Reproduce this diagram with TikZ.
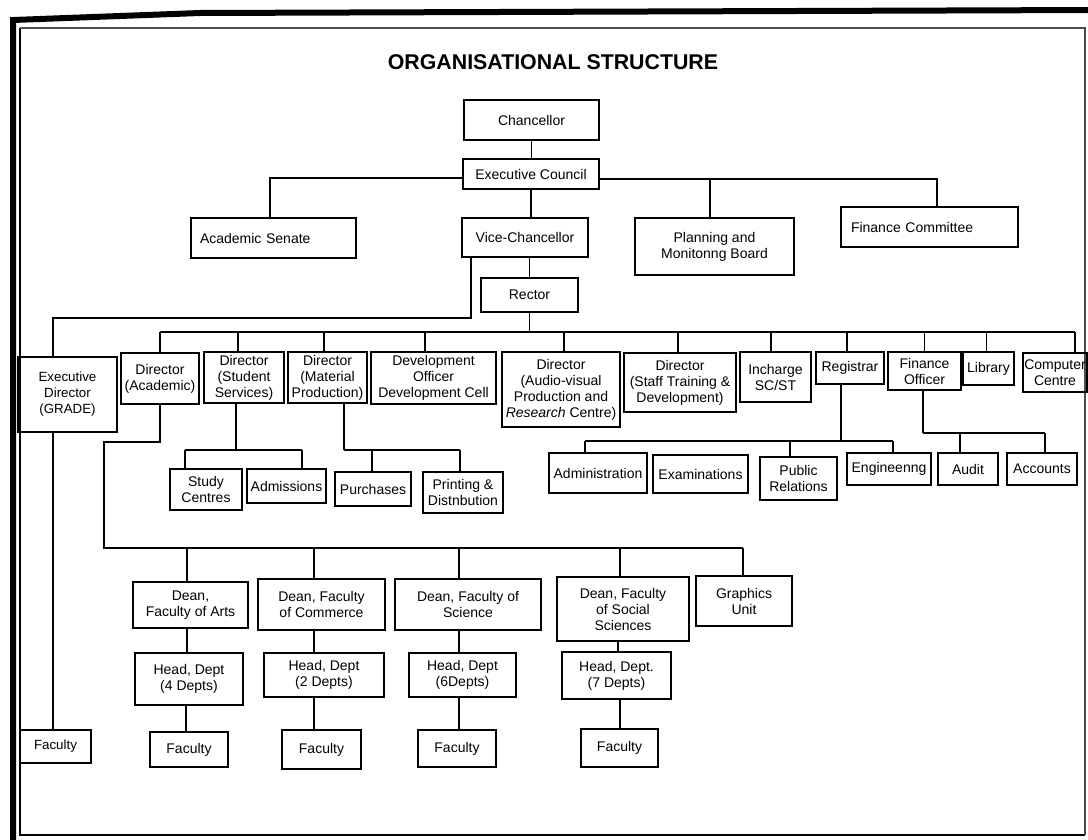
\documentclass[tikz,border=0pt]{standalone}
\usepackage{fontspec}
\setmainfont{Liberation Sans}
\usetikzlibrary{calc}
\tikzset{
  box/.style={draw, line width=1.2pt, inner sep=0pt, align=center, font=\fontsize{10.5}{12}\selectfont},
  conn/.style={line width=1.2pt},
}
% \obox[opts]{name}{x1}{y1}{x2}{y2}{text}
\newcommand\obox[7][]{\node[box,minimum width={(#5-#3)*0.75pt},minimum height={(#6-#4)*0.75pt},#1] (#2) at ({(#3+#5)/2},{(#4+#6)/2}) {#7};}
% drop from bus level (#1) to top of node #2 shifted by #3 px
\newcommand\dropto[3]{\draw[conn] let \p1=($(#2.north)+(#3,0)$), \p2=(#1) in (\x1,\y2) -- (\p1);}
% from bottom of node #2 (shifted #3) down to bus level #1
\newcommand\riseto[3]{\draw[conn] let \p1=($(#2.south)+(#3,0)$), \p2=(#1) in (\p1) -- (\x1,\y2);}
% vertical link from bottom of #1 (shift #3) to top of #2
\newcommand\vlink[3]{\draw[conn] let \p1=($(#1.south)+(#3,0)$), \p2=(#2.north) in (\p1) -- (\x1,\y2);}
\begin{document}
\begin{tikzpicture}[x=0.75pt,y=-0.75pt]
\useasboundingbox (0,0) rectangle (1088,839);
\fill[white] (0,0) rectangle (1088,839);
% frame
\draw[line width=4.5pt] (13,845) -- (13,20) -- (200,13) -- (1095,10);
\draw[line width=1.2pt] (20,28) -- (20,835) -- (1085,835);
\draw[line width=0.8pt, black!70] (20,28) -- (1085,28) -- (1085,835);
% title
\node[font=\fontsize{16}{19}\selectfont\bfseries] (title) at (553,62) {ORGANISATIONAL STRUCTURE};
% top boxes
\obox{chan}{464}{100}{599}{140}{Chancellor}
\obox{ec}{463}{159}{599}{189}{Executive Council}
\obox[align=left,text width=110.25pt]{sen}{191}{218}{356}{258}{Academic Senate}
\obox{vc}{462}{218}{588}{257}{Vice-Chancellor}
\obox{plan}{635}{218}{794}{275}{Planning and\\Monitonng Board}
\obox[align=left,text width=117.75pt]{fc}{841}{207}{1018}{247}{Finance Committee}
\obox{rec}{481}{278}{578}{312}{Rector}
% directors row
\obox[font=\fontsize{10}{12}\selectfont]{ed}{18}{357}{117}{432}{Executive\\Director\\(GRADE)}
\obox{da}{121}{353}{199}{404}{Director\\(Academic)}
\obox{dss}{204}{352}{284}{403}{Director\\(Student\\Services)}
\obox{dmp}{288}{352}{367}{403}{Director\\(Material\\Production)}
\obox{dev}{371}{352}{496}{404}{Development\\Officer\\Development Cell}
\obox{av}{502}{352}{620}{427}{Director\\(Audio-visual\\Production and\\\textit{Research} Centre)}
\obox{st}{624}{353}{736}{412}{Director\\(Staff Training \&\\Development)}
\obox{inc}{740}{352}{811}{402}{Incharge\\SC/ST}
\obox{reg}{816}{352}{884}{384}{Registrar}
\obox{fo}{888}{352}{961}{390}{Finance\\Officer}
\obox{lib}{963}{352}{1014}{385}{Library}
\obox{cc}{1023}{353}{1087}{392}{Computer\\Centre}
% second level
\obox{scen}{170}{469}{242}{510}{Study\\Centres}
\obox{adms}{247}{469}{326}{503}{Admissions}
\obox{pur}{335}{472}{411}{506}{Purchases}
\obox{prt}{423}{472}{503}{513}{Printing \&\\Distnbution}
\obox{adm}{549}{453}{647}{493}{Administration}
\obox{exam}{653}{455}{748}{493}{Examinations}
\obox{pr}{760}{457}{837}{500}{Public\\Relations}
\obox{eng}{847}{453}{931}{485}{Engineenng}
\obox{aud}{938}{453}{998}{485}{Audit}
\obox{acc}{1007}{453}{1077}{485}{Accounts}
% deans
\obox{dar}{133}{582}{248}{628}{Dean,\\Faculty of Arts}
\obox{dco}{258}{579}{385}{630}{Dean, Faculty\\of Commerce}
\obox{dsc}{395}{579}{541}{630}{Dean, Faculty of\\Science}
\obox{dso}{557}{577}{689}{641}{Dean, Faculty\\of Social\\Sciences}
\obox{gu}{696}{576}{792}{626}{Graphics\\Unit}
% heads
\obox{har}{135}{653}{243}{705}{Head, Dept\\(4 Depts)}
\obox{hco}{264}{653}{384}{697}{Head, Dept\\(2 Depts)}
\obox{hsc}{409}{653}{516}{697}{Head, Dept\\(6Depts)}
\obox{hso}{562}{652}{671}{699}{Head, Dept.\\(7 Depts)}
% faculties
\obox[font=\fontsize{10}{12}\selectfont]{fed}{20}{730}{91}{763}{Faculty}
\obox{far}{150}{732}{228}{767}{Faculty}
\obox{fco}{282}{730}{361}{769}{Faculty}
\obox{fsc}{418}{730}{496}{767}{Faculty}
\obox{fso}{581}{729}{658}{767}{Faculty}
% ---- connectors ----
\coordinate (ecL) at (270,178);
\coordinate (ecR) at (937,179);
\draw[conn] (chan.south) -- (chan.south |- ec.north);
\draw[conn] (ec.west |- ecL) -- (ecL) -- (ecL |- sen.north);
\draw[conn] (ec.east |- ecR) -- (ecR) -- (ecR |- fc.north);
\dropto{ecR}{plan}{-4.5}
\draw[conn] (ec.south) -- (ec.south |- vc.north);
\draw[conn] (rec.north |- vc.south) -- (rec.north);
% VC to Executive Director
\coordinate (edA) at (471,318);
\coordinate (edB) at (53,318);
\draw[conn] (edA |- vc.south) -- (edA) -- (edB) -- (edB |- ed.north);
\draw[conn] (edB |- ed.south) -- (edB |- fed.north);
% directors bus
\coordinate (dirL) at (160,332);
\coordinate (dirR) at (1075,332);
\draw[conn] (dirL) -- (dirR);
\riseto{dirL}{rec}{0}
\dropto{dirL}{da}{0}
\dropto{dirL}{dss}{-6}
\dropto{dirL}{dmp}{-3.5}
\dropto{dirL}{dev}{-8.5}
\dropto{dirL}{av}{3}
\dropto{dirL}{st}{-2}
\dropto{dirL}{inc}{-4.5}
\dropto{dirL}{reg}{-3}
\dropto{dirL}{fo}{0}
\dropto{dirL}{lib}{-2}
\dropto{dirL}{cc}{20}
% student services
\coordinate (ssL) at (185,450);
\coordinate (ssR) at (302,450);
\riseto{ssL}{dss}{-8}
\draw[conn] (ssL) -- (ssR);
\dropto{ssL}{scen}{-21}
\dropto{ssL}{adms}{15.5}
% material production
\coordinate (mpL) at (344,450);
\coordinate (mpR) at (460,450);
\riseto{mpL}{dmp}{16.5}
\draw[conn] (mpL) -- (mpR);
\dropto{mpL}{pur}{-1}
\dropto{mpL}{prt}{-3}
% registrar
\coordinate (rgL) at (585,441);
\coordinate (rgR) at (893,441);
\riseto{rgL}{reg}{-9}
\draw[conn] (rgL) -- (rgR);
\dropto{rgL}{adm}{-13}
\dropto{rgL}{pr}{-8.5}
\dropto{rgL}{eng}{4}
% finance officer
\coordinate (foL) at (923,433);
\coordinate (foR) at (1045,433);
\riseto{foL}{fo}{-1.5}
\draw[conn] (foL) -- (foR);
\dropto{foL}{aud}{-8}
\dropto{foL}{acc}{3}
% academic to deans
\coordinate (dnA) at (104,442);
\coordinate (dnB) at (104,548);
\coordinate (dnR) at (743,548);
\draw[conn] (da.south) |- (dnA) -- (dnB) -- (dnR);
\dropto{dnB}{dar}{-3.5}
\dropto{dnB}{dco}{-7.5}
\dropto{dnB}{dsc}{-9}
\dropto{dnB}{dso}{-3}
\dropto{dnB}{gu}{-1}
% dean -> head -> faculty
\vlink{dar}{har}{-3.5}
\vlink{har}{far}{-3}
\vlink{dco}{hco}{-7.5}
\vlink{hco}{fco}{-10}
\vlink{dsc}{hsc}{-9}
\vlink{hsc}{fsc}{-3.5}
\vlink{dso}{hso}{-5}
\vlink{hso}{fso}{3.5}
\end{tikzpicture}
\end{document}
